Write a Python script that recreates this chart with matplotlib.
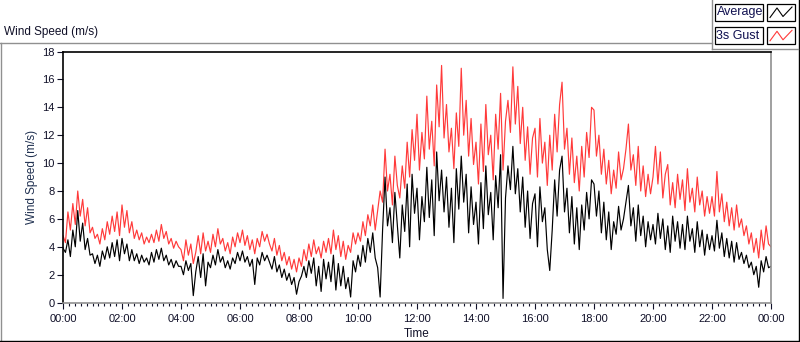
import matplotlib
matplotlib.use("Agg")
import matplotlib.pyplot as plt
import numpy as np
from matplotlib.patches import Rectangle
from matplotlib.lines import Line2D

# 5-minute readings, 00:00 .. 24:00, one row per hour
gust = [
    4.8, 4.3, 6.5, 5.2, 7.1, 5.6, 8.0, 6.2, 7.4, 5.5, 6.8, 5.0,
    5.4, 4.6, 4.9, 4.2, 5.3, 4.5, 5.8, 4.9, 6.2, 5.1, 6.5, 4.8,
    7.0, 5.4, 6.6, 5.0, 5.8, 4.6, 5.2, 4.5, 5.0, 4.2, 4.7, 4.3,
    4.9, 4.3, 5.2, 4.4, 5.6, 4.6, 5.1, 4.2, 4.6, 3.9, 4.4, 4.0,
    3.8, 3.0, 4.5, 3.4, 4.2, 2.8, 3.6, 4.8, 3.5, 5.0, 3.7, 4.4,
    3.6, 4.9, 4.0, 5.3, 4.2, 4.6, 3.7, 4.3, 3.5, 4.7, 4.0, 5.0,
    4.3, 5.2, 4.1, 4.8, 3.8, 4.5, 3.5, 4.6, 4.0, 5.1, 4.4, 4.9,
    4.2, 3.7, 4.6, 3.4, 4.1, 3.0, 3.6, 2.7, 3.3, 2.4, 3.1, 2.2,
    3.2, 2.6, 3.8, 3.0, 4.2, 3.3, 4.5, 3.5, 4.0, 3.2, 4.4, 3.6,
    4.6, 3.5, 5.2, 3.8, 4.8, 3.3, 4.4, 3.1, 4.1, 3.6, 5.0, 4.2,
    5.0, 4.4, 5.8, 4.8, 6.3, 5.5, 7.0, 5.2, 6.6, 8.0, 7.2, 11.0,
    8.0, 9.2, 7.0, 10.5, 8.4, 7.5, 9.8, 8.2, 11.5, 9.0, 12.4, 10.2,
    13.5, 9.5, 12.2, 10.3, 14.8, 11.0, 13.0, 9.8, 15.6, 12.6, 17.0, 11.8,
    14.2, 10.8, 12.5, 9.6, 13.6, 11.2, 16.8, 12.0, 14.5, 10.5, 13.2, 9.9,
    11.5, 8.5, 12.8, 9.4, 14.2, 10.6, 12.0, 8.8, 13.5, 11.0, 15.0, 9.5,
    13.0, 14.5, 12.2, 16.9, 12.8, 15.5, 11.4, 14.0, 10.2, 12.6, 9.2, 11.8,
    12.5, 9.0, 13.2, 10.0, 11.5, 8.4, 12.0, 9.5, 13.5, 10.8, 14.2, 15.8,
    11.0, 12.5, 9.2, 11.8, 8.6, 10.5, 8.0, 11.2, 9.0, 12.2, 10.4, 14.0,
    13.8, 10.5, 12.0, 9.2, 11.0, 8.5, 10.2, 7.8, 9.5, 8.2, 10.8, 8.8,
    9.6, 11.0, 12.8, 9.5, 10.6, 8.4, 11.2, 8.0, 9.8, 7.6, 9.2, 7.8,
    9.0, 11.2, 8.5, 10.8, 7.5, 9.2, 9.9, 7.0, 8.6, 6.8, 9.2, 7.4,
    8.8, 6.6, 9.6, 7.2, 8.2, 6.5, 9.0, 7.0, 8.0, 6.2, 7.6, 6.4,
    7.6, 6.2, 9.4, 6.5, 7.8, 5.8, 7.2, 5.5, 6.8, 5.2, 7.0, 5.4,
    6.0, 4.8, 5.5, 4.2, 5.0, 3.6, 4.6, 3.2, 5.2, 3.8, 5.5, 4.2,
    4.0,
]
average = [
    3.9, 3.6, 4.5, 3.3, 5.2, 4.0, 6.6, 4.4, 5.7, 3.8, 4.6, 3.4,
    3.5, 2.8, 3.4, 2.6, 3.7, 3.1, 4.0, 3.2, 4.3, 3.3, 4.5, 3.0,
    4.6, 3.5, 4.2, 3.0, 3.8, 3.0, 3.5, 2.8, 3.4, 2.9, 3.2, 2.7,
    3.6, 2.9, 3.8, 3.1, 3.9, 3.0, 3.4, 2.7, 3.1, 2.5, 3.0, 2.6,
    2.6, 2.0, 3.0, 2.3, 2.8, 0.5, 2.2, 3.3, 1.8, 3.5, 1.2, 2.9,
    2.5, 3.4, 2.7, 3.8, 2.9, 3.3, 2.5, 3.0, 2.4, 3.2, 2.8, 3.6,
    3.0, 3.7, 2.9, 3.3, 2.6, 3.1, 1.3, 3.2, 2.7, 3.6, 3.0, 3.4,
    2.9, 2.4, 3.3, 2.2, 2.7, 1.8, 2.4, 1.6, 2.1, 1.3, 1.8, 0.6,
    1.5, 1.9, 2.6, 1.8, 3.0, 2.1, 3.2, 1.2, 2.6, 0.8, 3.1, 1.7,
    2.9, 1.5, 3.4, 0.9, 2.8, 1.2, 2.6, 1.0, 1.8, 0.4, 3.0, 2.2,
    3.4, 2.6, 4.1, 2.9, 4.6, 3.6, 5.0, 3.2, 2.5, 0.4, 5.2, 9.0,
    5.5, 6.8, 4.3, 7.9, 5.6, 3.2, 7.0, 5.1, 8.5, 4.0, 9.2, 6.4,
    8.2, 4.5, 7.6, 5.8, 9.7, 6.1, 8.8, 4.8, 10.8, 7.3, 9.5, 6.5,
    9.0, 5.4, 8.2, 4.3, 9.6, 6.7, 10.5, 7.2, 9.2, 5.0, 8.3, 5.6,
    7.2, 4.2, 8.6, 5.3, 9.8, 6.3, 7.9, 4.5, 9.1, 6.8, 10.6, 0.3,
    7.5, 9.8, 8.1, 11.2, 7.8, 9.6, 6.5, 9.0, 5.4, 8.0, 4.6, 7.1,
    7.8, 4.0, 8.3, 5.8, 6.8, 3.8, 2.3, 5.2, 8.8, 6.2, 9.5, 10.5,
    6.5, 8.2, 5.0, 7.6, 4.2, 6.8, 3.8, 7.0, 5.2, 7.9, 6.0, 8.8,
    8.5, 6.2, 8.0, 5.0, 7.2, 4.5, 6.5, 3.8, 5.8, 4.9, 6.9, 5.2,
    6.0, 7.2, 8.4, 5.5, 6.8, 4.4, 7.0, 4.8, 6.2, 4.0, 5.8, 4.5,
    5.6, 4.2, 6.4, 4.6, 6.0, 3.8, 5.5, 3.6, 6.2, 4.4, 5.8, 3.9,
    5.6, 3.8, 6.2, 4.4, 5.3, 3.6, 5.8, 4.0, 5.2, 3.4, 4.9, 3.8,
    4.8, 3.7, 5.9, 3.9, 5.0, 3.3, 4.6, 3.2, 4.4, 2.9, 4.3, 3.1,
    3.6, 2.8, 3.4, 2.5, 2.9, 2.0, 2.6, 1.1, 3.0, 2.2, 3.3, 2.5,
    2.6,
]
hours = np.arange(len(gust)) * 5 / 60.0
tick_hours = list(range(0, 25, 2))
tick_labels = ["%02d:00" % (h % 24) for h in tick_hours]

W, H = 800, 342
plt.rcParams["font.family"] = ["Liberation Sans", "DejaVu Sans"]
fig = plt.figure(figsize=(W / 100, H / 100), dpi=100)

def fx(px):
    return px / W

def fy(py):
    return 1 - py / H

text_col = "#101028"
red = "#ff3a3a"

ax = fig.add_axes([fx(63), fy(302.6), fx(771) - fx(63), fy(51.5) - fy(302.6)])
ax.plot(hours, gust, color=red, lw=0.85)
ax.plot(hours, average, color="black", lw=0.85)
ax.set_xlim(0, 24)
ax.set_ylim(0, 18)
ax.set_yticks(range(0, 19, 2))
ax.set_xticks(tick_hours)
ax.set_xticklabels(tick_labels)
ax.set_xticks(np.arange(0, 24.01, 0.2), minor=True)
ax.tick_params(axis="both", which="major", direction="out", length=4, width=0.8,
               labelsize=8, colors=text_col, pad=2)
ax.tick_params(axis="x", which="major", pad=4)
ax.tick_params(axis="x", which="minor", direction="out", length=2.5, width=0.8, colors=text_col)
for side in ["top", "left"]:
    ax.spines[side].set_color("black")
    ax.spines[side].set_linewidth(1.2)
for side in ["bottom", "right"]:
    ax.spines[side].set_color("#909090")
    ax.spines[side].set_linewidth(1.2)
ax.set_xlabel("Time", fontsize=8.5, color=text_col, labelpad=3)
ax.set_ylabel("Wind Speed (m/s)", fontsize=8.5, color="#1f3050", labelpad=3)

fig.text(fx(4), fy(32), "Wind Speed (m/s)", fontsize=8.5, color=text_col, va="center", ha="left")

# outer frame
fig.add_artist(Line2D([fx(0), fx(712)], [fy(42.5), fy(42.5)], color="#909090", lw=1))
fig.add_artist(Line2D([fx(0.5), fx(0.5)], [fy(42.5), fy(342)], color="#909090", lw=1))
fig.add_artist(Line2D([fx(0), fx(799)], [fy(341), fy(341)], color="black", lw=1))
fig.add_artist(Line2D([fx(798.5), fx(798.5)], [fy(0), fy(342)], color="black", lw=1))
fig.add_artist(Line2D([fx(712), fx(712)], [fy(0), fy(49)], color="#909090", lw=1))
fig.add_artist(Line2D([fx(712), fx(798)], [fy(49), fy(49)], color="#909090", lw=1))

# legend
legend_rows = [("Average", "black", 4), ("3s Gust", red, 27.3)]
for name, col, top in legend_rows:
    h = 16.5
    fig.add_artist(Rectangle((fx(715), fy(top + h)), fx(763) - fx(715), fy(top) - fy(top + h),
                             facecolor="white", edgecolor="black", lw=0.9))
    fig.text(fx(716.5), fy(top + h / 2), name, fontsize=9, color="#101050", va="center", ha="left")
    fig.add_artist(Rectangle((fx(767), fy(top + h)), fx(795) - fx(767), fy(top) - fy(top + h),
                             facecolor="white", edgecolor="black", lw=0.9))
    zx = [770, 777, 783, 792]
    zy = [top + h - 3, top + 4, top + h - 4, top + 3]
    fig.add_artist(Line2D([fx(v) for v in zx], [fy(v) for v in zy], color=col, lw=0.8))

fig.savefig("out.png", dpi=100)
